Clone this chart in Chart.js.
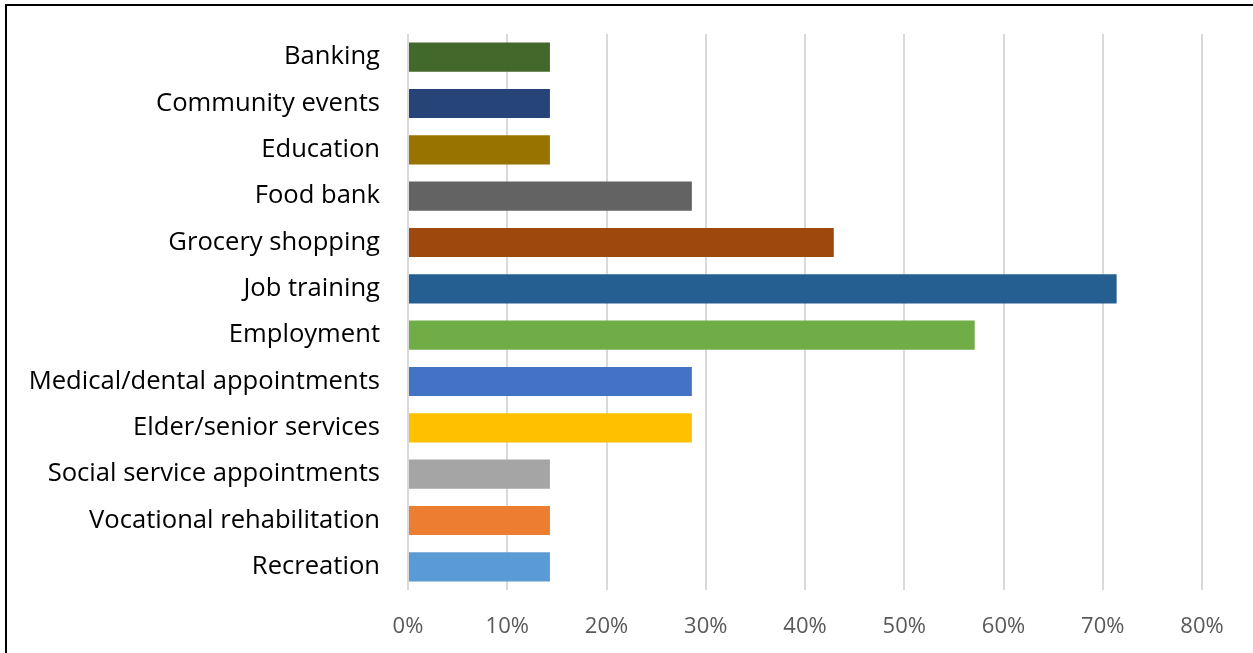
<!DOCTYPE html>
<html>
<head>
<meta charset="utf-8">
<script src="https://cdn.jsdelivr.net/npm/chart.js@4/dist/chart.umd.min.js"></script>
<style>
  html, body { margin: 0; padding: 0; background: #fff; overflow: hidden; }
  #wrap { position: relative; width: 1253px; height: 653px; }
  #frame { position: absolute; left: 5px; top: 4px; width: 1400px; height: 800px;
           border-left: 2px solid #000; border-top: 2px solid #000; }
  canvas { position: absolute; left: 0; top: 0; }
</style>
</head>
<body>
<div id="wrap">
  <div id="frame"></div>
  <canvas id="chart" width="1253" height="653"></canvas>
</div>
<script>
// Services reached by transportation, share of respondents (%)
const categories = [
  'Banking',
  'Community events',
  'Education',
  'Food bank',
  'Grocery shopping',
  'Job training',
  'Employment',
  'Medical/dental appointments',
  'Elder/senior services',
  'Social service appointments',
  'Vocational rehabilitation',
  'Recreation'
];
const shares = [14.3, 14.3, 14.3, 28.6, 42.9, 71.4, 57.1, 28.6, 28.6, 14.3, 14.3, 14.3];
const barColors = [
  '#43682B', '#264478', '#997300', '#636363', '#9E480E', '#255E91',
  '#70AD47', '#4472C4', '#FFC000', '#A5A5A5', '#ED7D31', '#5B9BD5'
];
const axisMax = 80;
const axisStep = 10;

new Chart(document.getElementById('chart'), {
  type: 'bar',
  data: {
    labels: categories,
    datasets: [{
      data: shares,
      backgroundColor: barColors,
      borderWidth: 0,
      categoryPercentage: 1,
      barPercentage: 0.63
    }]
  },
  options: {
    indexAxis: 'y',
    responsive: false,
    devicePixelRatio: 1,
    animation: false,
    layout: { padding: { left: 0, right: 51, top: 34, bottom: 0 } },
    plugins: { legend: { display: false }, tooltip: { enabled: false } },
    scales: {
      x: {
        min: 0,
        max: axisMax,
        border: { display: false },
        grid: { color: '#d9d9d9', lineWidth: 2, drawTicks: false },
        ticks: {
          stepSize: axisStep,
          padding: 24,
          color: '#595959',
          font: { family: '"Open Sans", sans-serif', size: 22 },
          callback: v => v + '%'
        },
        afterFit: s => { s.height = 63; s.paddingLeft = 0; s.paddingRight = 0; }
      },
      y: {
        border: { display: false },
        grid: { display: false, drawTicks: false },
        ticks: {
          autoSkip: false,
          padding: 28,
          color: '#000',
          font: { family: '"Open Sans", sans-serif', size: 25.6 }
        },
        afterFit: s => { s.width = 408; s.paddingTop = 0; s.paddingBottom = 0; }
      }
    }
  }
});
</script>
</body>
</html>
